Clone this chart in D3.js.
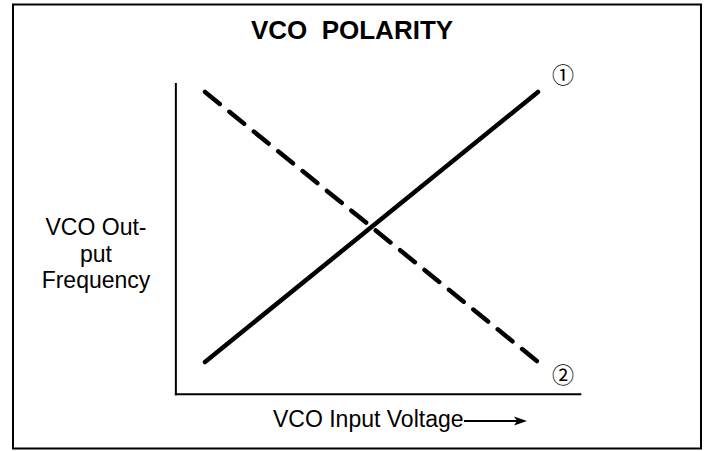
<!DOCTYPE html>
<html>
<head>
<meta charset="utf-8">
<script src="https://cdn.jsdelivr.net/npm/d3@7"></script>
<style>
  body { margin: 0; background: #fff; }
  svg { display: block; }
</style>
</head>
<body>
<svg class="chart" width="704" height="451"></svg>
<script>
// input voltage (normalised) and the two output frequency responses
const inputVoltage = [0, 1];
const polarity1 = [0, 1];   // solid, rising
const polarity2 = [1, 0];   // dashed, falling
const seriesLabels = ['\u2460', '\u2461'];
const yLabelLines = ['VCO Out-', 'put', 'Frequency'];

const svg = d3.select('.chart');

const x = d3.scaleLinear().domain([0, 1]).range([205, 538]);
const y = d3.scaleLinear().domain([0, 1]).range([362, 92]);

// outer frame
svg.append('rect')
  .attr('x', 13).attr('y', 4.5)
  .attr('width', 688).attr('height', 444)
  .attr('fill', 'none').attr('stroke', '#000').attr('stroke-width', 2);

svg.append('text')
  .attr('x', 352).attr('y', 39)
  .attr('text-anchor', 'middle')
  .style('font', 'bold 26px "Liberation Sans", Arial, sans-serif')
  .style('white-space', 'pre')
  .text('VCO  POLARITY');

// axes, extended a bit past the data
const axisX = x(-0.0875);
const axisY = y(-0.119);
svg.append('line')
  .attr('x1', axisX).attr('x2', axisX)
  .attr('y1', y(1.033)).attr('y2', axisY + 1)
  .attr('stroke', '#000').attr('stroke-width', 2);
svg.append('line')
  .attr('x1', axisX - 1).attr('x2', x(1.13))
  .attr('y1', axisY).attr('y2', axisY)
  .attr('stroke', '#000').attr('stroke-width', 2);

const line = d3.line()
  .x((d, i) => x(inputVoltage[i]))
  .y(d => y(d));

svg.append('path')
  .attr('d', line(polarity1))
  .attr('fill', 'none').attr('stroke', '#000')
  .attr('stroke-width', 4.5).attr('stroke-linecap', 'round');

svg.append('path')
  .attr('d', line(polarity2))
  .attr('fill', 'none').attr('stroke', '#000')
  .attr('stroke-width', 4.5).attr('stroke-linecap', 'round')
  .attr('stroke-dasharray', '19 12.4');

// circled series numbers at the right end of each line
[polarity1, polarity2].forEach((s, i) => {
  const cx = x(1) + 25;
  const cy = y(s[1]) + (s[1] > 0.5 ? -19 : 11);
  svg.append('text')
    .attr('x', cx).attr('y', cy)
    .attr('text-anchor', 'middle')
    .attr('dominant-baseline', 'central')
    .style('font', '22px "Noto Sans CJK JP", "DejaVu Sans", serif')
    .text(seriesLabels[i]);
});

svg.append('text')
  .attr('text-anchor', 'middle')
  .style('font', '23px "Liberation Sans", Arial, sans-serif')
  .selectAll('tspan')
  .data(yLabelLines)
  .join('tspan')
    .attr('x', 96)
    .attr('y', (d, i) => 235 + i * 26.5)
    .text(d => d);

svg.append('text')
  .attr('x', 273).attr('y', 427)
  .style('font', '23px "Liberation Sans", Arial, sans-serif')
  .text('VCO Input Voltage');

// arrow after the x label
svg.append('line')
  .attr('x1', 464).attr('x2', 518)
  .attr('y1', 421).attr('y2', 421)
  .attr('stroke', '#000').attr('stroke-width', 2);
svg.append('path')
  .attr('d', 'M527,421L514,416.5L517,421L514,425.5Z')
  .attr('fill', '#000');
</script>
</body>
</html>
